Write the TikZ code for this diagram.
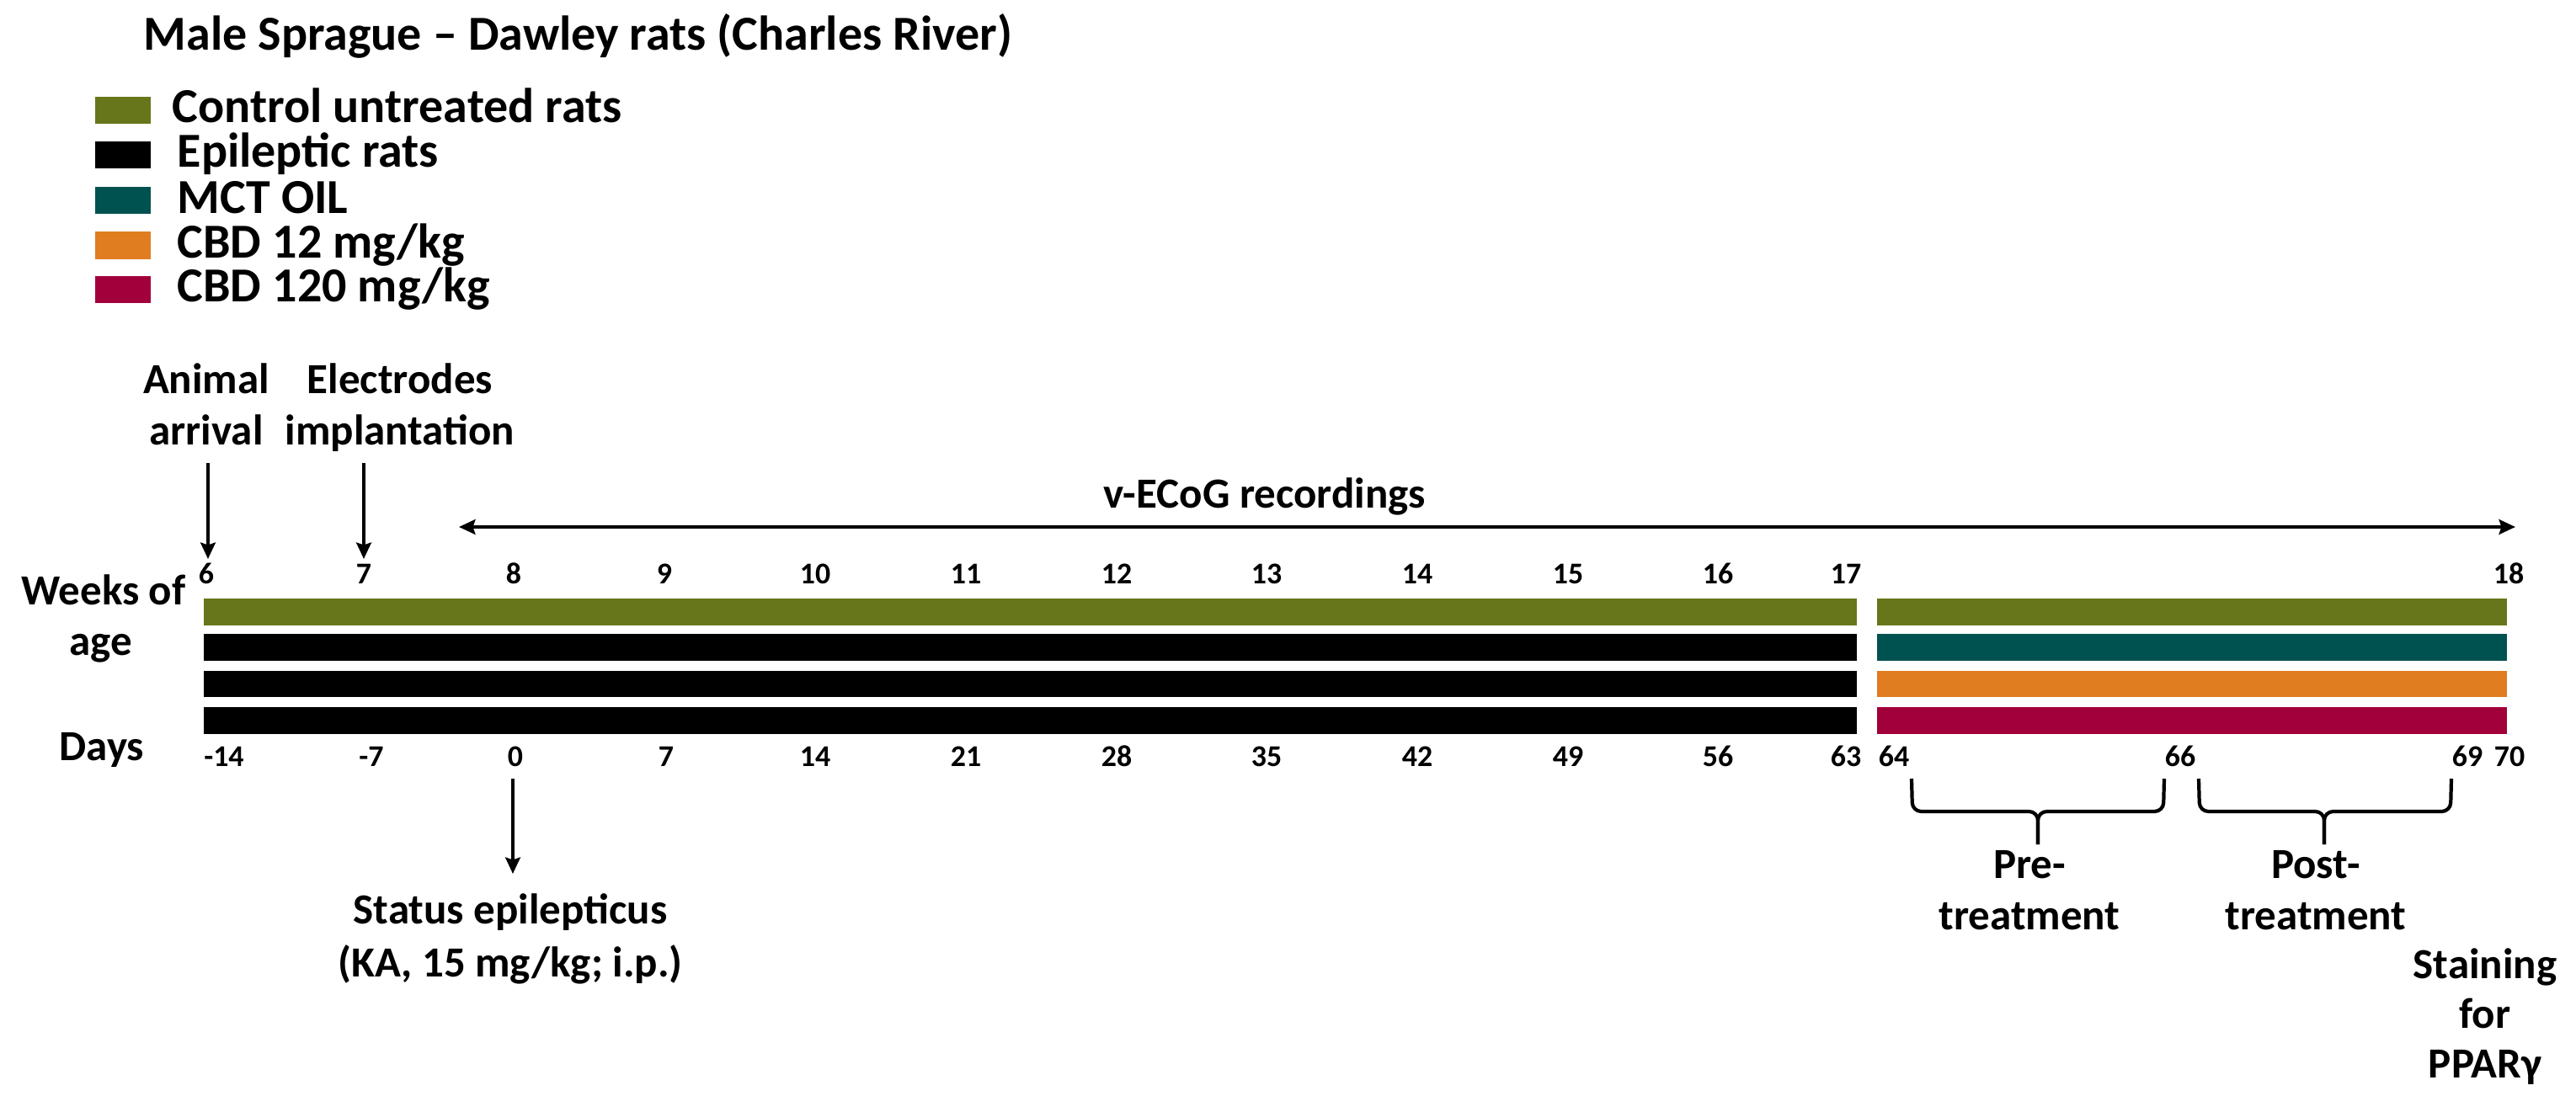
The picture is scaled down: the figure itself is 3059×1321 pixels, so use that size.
\documentclass[tikz,border=0pt]{standalone}
\usepackage{fontspec}
\setmainfont{Carlito}
\usetikzlibrary{arrows.meta}
\definecolor{cgreen}{RGB}{103,118,26}
\definecolor{cteal}{RGB}{0,82,80}
\definecolor{corange}{RGB}{224,125,32}
\definecolor{ccrim}{RGB}{162,0,58}
\tikzset{
  ttl/.style={font=\fontsize{16.5}{20}\selectfont\bfseries, inner sep=0pt, anchor=base west},
  leg/.style={font=\fontsize{16.5}{20}\selectfont\bfseries, inner sep=0pt, anchor=base west},
  lab/.style={font=\fontsize{14.5}{17}\selectfont\bfseries, inner sep=0pt, anchor=base},
  num/.style={font=\fontsize{10.2}{12}\selectfont\bfseries, inner sep=0pt, anchor=base},
  arr/.style={line width=1.3pt, -{Stealth[length=5.5pt,width=5pt,inset=0.8pt]}},
  darr/.style={line width=1.3pt, {Stealth[length=5.5pt,width=5pt,inset=0.8pt]}-{Stealth[length=5.5pt,width=5pt,inset=0.8pt]}},
  brc/.style={line width=1.2pt, rounded corners=3pt},
  swatch/.style={inner sep=0pt, minimum width=0.66cm, minimum height=0.32cm, draw=none}
}
\begin{document}
\begin{tikzpicture}[x=0.01cm,y=-0.01cm]
\useasboundingbox (0,0) rectangle (3059,1321);
% title
\node[ttl] (title) at (170,60) {Male Sprague -- Dawley rats (Charles River)};
% legend
\node[swatch, fill=cgreen] (s1) at (146,131) {};
\node[swatch, fill=black] (s2) at (146,184) {};
\node[swatch, fill=cteal] (s3) at (146,238) {};
\node[swatch, fill=corange] (s4) at (146,291.5) {};
\node[swatch, fill=ccrim] (s5) at (146,344) {};
\node[leg] (l1) at (204,145) {Control untreated rats};
\node[leg] (l2) at (210,198) {Epileptic rats};
\node[leg] (l3) at (210,253) {MCT OIL};
\node[leg] (l4) at (210,306) {CBD 12 mg/kg};
\node[leg] (l5) at (210,358) {CBD 120 mg/kg};
% event labels top
\node[lab] (ev1a) at (245,467) {Animal};
\node[lab] (ev1b) at (245,528) {arrival};
\node[lab] (ev2a) at (475,467) {Electrodes};
\node[lab] (ev2b) at (475,528) {implantation};
\coordinate (a1s) at (247,550);
\coordinate (a1e) at (247,664);
\coordinate (a2s) at (432,550);
\coordinate (a2e) at (432,664);
\draw[arr] (a1s) -- (a1e);
\draw[arr] (a2s) -- (a2e);
% v-ECoG
\node[lab] (vecog) at (1502,603) {v-ECoG recordings};
\coordinate (vl) at (545,626);
\coordinate (vr) at (2987,626);
\draw[darr] (vl) -- (vr);
% axis titles
\node[lab] (wk1) at (123,718) {Weeks of};
\node[lab] (wk2) at (120,778) {age};
\node[lab] (days) at (121,903) {Days};
% week numbers
\foreach \n/\x in {6/245,7/432,8/610,9/789,10/968,11/1147,12/1326,13/1504,14/1683,15/1862,16/2040,17/2192,18/2979}
  \node[num] (w\n) at (\x,693) {\n};
% bars
\fill[cgreen] (242,711) rectangle (2205,743);
\fill[black] (242,753) rectangle (2205,785);
\fill[black] (242,797) rectangle (2205,828);
\fill[black] (242,840) rectangle (2205,872);
\fill[cgreen] (2229,711) rectangle (2977,743);
\fill[cteal] (2229,753) rectangle (2977,785);
\fill[corange] (2229,797) rectangle (2977,828);
\fill[ccrim] (2229,840) rectangle (2977,872);
% day numbers
\foreach \n/\x/\k in {-14/266/a,-7/441/b,0/612/c,7/791/d,14/968/e,21/1147/f,28/1326/g,35/1504/h,42/1683/i,49/1862/j,56/2040/k,63/2192/l,64/2249/m,66/2589/n,69/2930/o,70/2980/p}
  \node[num] (d\k) at (\x,910) {\n};
% status epilepticus
\coordinate (ses) at (609,925);
\coordinate (see) at (609,1038);
\draw[arr] (ses) -- (see);
\node[lab] (se1) at (606,1097) {Status epilepticus};
\node[lab] (se2) at (606,1160) {(KA, 15 mg/kg; i.p.)};
% braces
\draw[brc] (2270,925) -- (2271,964) -- (2420,964) -- (2420,1003);
\draw[brc] (2570,925) -- (2569,964) -- (2420,964) -- (2420,1003);
\draw[brc] (2611,925) -- (2612,964) -- (2760,964) -- (2760,1003);
\draw[brc] (2911,925) -- (2910,964) -- (2760,964) -- (2760,1003);
\node[lab] (pre1) at (2410,1043) {Pre-};
\node[lab] (pre2) at (2410,1104) {treatment};
\node[lab] (post1) at (2750,1043) {Post-};
\node[lab] (post2) at (2750,1104) {treatment};
% staining
\node[lab] (st1) at (2951,1162) {Staining};
\node[lab] (st2) at (2951,1221) {for};
\node[lab] (st3) at (2951,1280) {PPARγ};
\end{tikzpicture}
\end{document}
